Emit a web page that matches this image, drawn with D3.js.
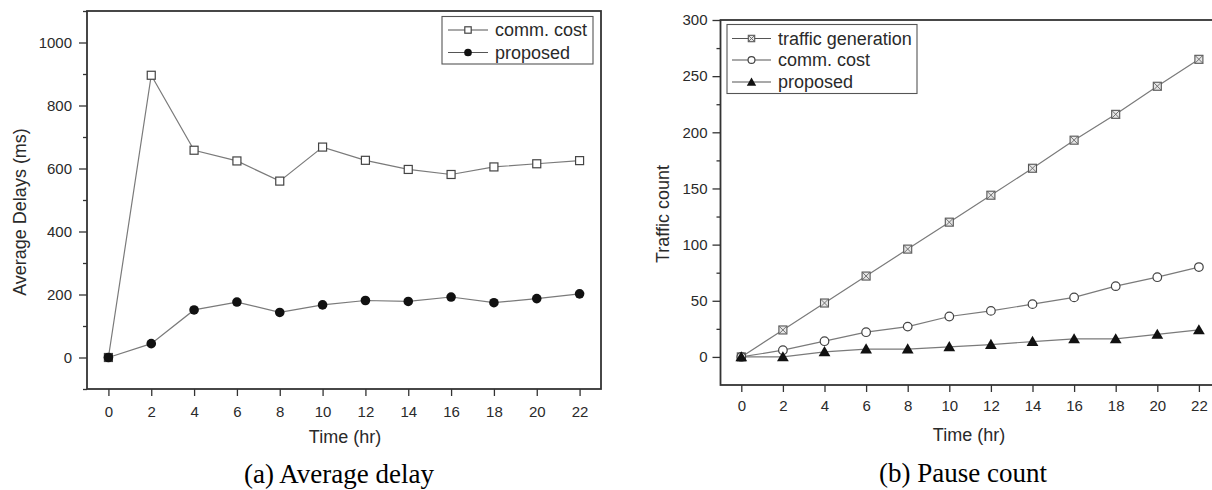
<!DOCTYPE html>
<html>
<head>
<meta charset="utf-8">
<script src="https://cdn.jsdelivr.net/npm/d3@7"></script>
<style>
  html, body { margin: 0; padding: 0; background: #fff; }
  svg { display: block; }
  text { font-family: "Liberation Sans", Arial, sans-serif; fill: #2a2a2a; }
  .caption { font-family: "Liberation Serif", "Times New Roman", serif; fill: #000; }
</style>
</head>
<body>
<svg id="chart" width="1212" height="490"></svg>
<script>
// ---- data ----
const hours = [0, 2, 4, 6, 8, 10, 12, 14, 16, 18, 20, 22];
const xTicks = [0, 2, 4, 6, 8, 10, 12, 14, 16, 18, 20, 22];

// (a) Average delay
const delayCommCost = [0, 896, 658, 624, 560, 668, 626, 597, 581, 605, 615, 625];
const delayProposed = [0, 44, 151, 176, 143, 167, 181, 178, 192, 174, 187, 202];
const delayYTicks = [0, 200, 400, 600, 800, 1000];
const delayYMinor = [-100, 100, 300, 500, 700, 900, 1100];

// (b) Pause count
const trafficGeneration = [0, 24, 48, 72, 96, 120, 144, 168, 193, 216, 241, 265];
const trafficCommCost = [0, 6, 14, 22, 27, 36, 41, 47, 53, 63, 71, 80];
const trafficProposed = [0, 0, 4.5, 7, 7, 9, 11, 13.7, 16, 16, 20, 24];
const trafficYTicks = [0, 50, 100, 150, 200, 250, 300];
const trafficYMinor = [25, 75, 125, 175, 225, 275];

const svg = d3.select("#chart");
svg.append("rect").attr("width", 1212).attr("height", 490).attr("fill", "#fff");

const AXIS = "#333";
const LINE = "#7a7a7a";

function drawMarker(g, type, x, y, scale) {
  const s = scale || 1;
  if (type === "square") {
    const h = 4 * s;
    g.append("rect").attr("x", x - h).attr("y", y - h).attr("width", 2 * h).attr("height", 2 * h)
      .attr("fill", "#fff").attr("stroke", "#444").attr("stroke-width", 1.2);
  } else if (type === "xsquare") {
    const h = 4 * s;
    g.append("rect").attr("x", x - h).attr("y", y - h).attr("width", 2 * h).attr("height", 2 * h)
      .attr("fill", "#e6e6e6").attr("stroke", "#555").attr("stroke-width", 1.1);
    g.append("path").attr("d", `M${x - h},${y - h}L${x + h},${y + h}M${x + h},${y - h}L${x - h},${y + h}`)
      .attr("stroke", "#666").attr("stroke-width", 0.9).attr("fill", "none");
  } else if (type === "dot") {
    g.append("circle").attr("cx", x).attr("cy", y).attr("r", 4.8 * s).attr("fill", "#111");
  } else if (type === "circle") {
    g.append("circle").attr("cx", x).attr("cy", y).attr("r", 4.3 * s)
      .attr("fill", "#fff").attr("stroke", "#444").attr("stroke-width", 1.2);
  } else if (type === "triangle") {
    g.append("path").attr("d", d3.symbol().type(d3.symbolTriangle).size(60 * s * s)())
      .attr("transform", `translate(${x},${y + 1})`).attr("fill", "#111");
  }
}

function panel(cfg) {
  const x = d3.scaleLinear().domain([-1, 23]).range([cfg.left, cfg.right]);
  const y = d3.scaleLinear().domain(cfg.yDomain).range([cfg.bottom, cfg.top]);
  const g = svg.append("g");

  // minor y ticks
  const minor = g.append("g").attr("transform", `translate(${cfg.left},0)`)
    .call(d3.axisLeft(y).tickValues(cfg.yMinor).tickSize(4).tickFormat(""));
  minor.select(".domain").remove();
  minor.selectAll("line").attr("stroke", AXIS).attr("stroke-width", 1.3);

  // major y ticks
  const ya = g.append("g").attr("transform", `translate(${cfg.left},0)`)
    .call(d3.axisLeft(y).tickValues(cfg.yTicks).tickSize(8).tickPadding(cfg.yPad).tickFormat(d3.format("d")));
  ya.select(".domain").remove();
  ya.selectAll("line").attr("stroke", AXIS).attr("stroke-width", 1.3);
  ya.selectAll("text").attr("font-size", 15).attr("font-family", "Liberation Sans, Arial, sans-serif").attr("fill", "#2a2a2a");

  // x ticks
  const xa = g.append("g").attr("transform", `translate(0,${cfg.bottom})`)
    .call(d3.axisBottom(x).tickValues(xTicks).tickSize(7).tickPadding(cfg.xPad).tickFormat(d3.format("d")));
  xa.select(".domain").remove();
  xa.selectAll("line").attr("stroke", AXIS).attr("stroke-width", 1.3);
  xa.selectAll("text").attr("font-size", 15).attr("font-family", "Liberation Sans, Arial, sans-serif").attr("fill", "#2a2a2a");

  // frame
  g.append("rect").attr("x", cfg.left).attr("y", cfg.top)
    .attr("width", cfg.right - cfg.left).attr("height", cfg.bottom - cfg.top)
    .attr("fill", "none").attr("stroke", AXIS).attr("stroke-width", 1.8);

  // series
  const line = d3.line().x((d, i) => x(hours[i])).y(d => y(d));
  cfg.series.forEach(s => {
    g.append("path").datum(s.values).attr("d", line)
      .attr("fill", "none").attr("stroke", LINE).attr("stroke-width", 1.2);
  });
  cfg.series.forEach(s => {
    const mg = g.append("g");
    s.values.forEach((v, i) => drawMarker(mg, s.marker, x(hours[i]), y(v)));
  });

  // legend
  const L = cfg.legend;
  g.append("rect").attr("x", L.x).attr("y", L.y).attr("width", L.w).attr("height", L.h)
    .attr("fill", "#fff").attr("stroke", "#555").attr("stroke-width", 1.1);
  cfg.series.forEach((s, i) => {
    const ry = L.rows[i];
    g.append("line").attr("x1", L.lx1).attr("x2", L.lx2).attr("y1", ry).attr("y2", ry)
      .attr("stroke", "#555").attr("stroke-width", 1.2);
    drawMarker(g, s.marker, (L.lx1 + L.lx2) / 2, ry, 0.8);
    g.append("text").attr("x", L.tx).attr("y", ry).attr("dy", "0.35em")
      .attr("font-size", 18).text(s.name);
  });

  // axis titles
  g.append("text").attr("transform", `translate(${cfg.yTitleX},${cfg.yTitleY}) rotate(-90)`)
    .attr("text-anchor", "middle").attr("dy", "0.35em").attr("font-size", 18).text(cfg.yTitle);
  g.append("text").attr("x", cfg.xTitleX).attr("y", cfg.xTitleY)
    .attr("text-anchor", "middle").attr("font-size", 18).text("Time (hr)");

  // caption
  svg.append("text").attr("class", "caption").attr("x", cfg.capX).attr("y", cfg.capY)
    .attr("text-anchor", "middle").attr("font-size", 27).text(cfg.caption);
}

panel({
  left: 87, right: 601, top: 11, bottom: 389,
  yDomain: [-100, 1100], yTicks: delayYTicks, yMinor: delayYMinor,
  yPad: 7, xPad: 10,
  series: [
    { name: "comm. cost", values: delayCommCost, marker: "square" },
    { name: "proposed", values: delayProposed, marker: "dot" }
  ],
  legend: { x: 442, y: 16.5, w: 151, h: 47.5, rows: [30, 52.5], lx1: 448, lx2: 488, tx: 495 },
  yTitle: "Average Delays (ms)", yTitleX: 20, yTitleY: 212,
  xTitleX: 345, xTitleY: 443,
  caption: "(a) Average delay", capX: 339, capY: 483
});

panel({
  left: 720.5, right: 1219.7, top: 20, bottom: 385,
  yDomain: [-25, 300], yTicks: trafficYTicks, yMinor: trafficYMinor,
  yPad: 5, xPad: 8,
  series: [
    { name: "traffic generation", values: trafficGeneration, marker: "xsquare" },
    { name: "comm. cost", values: trafficCommCost, marker: "circle" },
    { name: "proposed", values: trafficProposed, marker: "triangle" }
  ],
  legend: { x: 727, y: 24.5, w: 190, h: 69, rows: [38.5, 60, 82], lx1: 732, lx2: 771, tx: 778 },
  yTitle: "Traffic count", yTitleX: 663, yTitleY: 214,
  xTitleX: 969, xTitleY: 441,
  caption: "(b) Pause count", capX: 963, capY: 482
});
</script>
</body>
</html>
